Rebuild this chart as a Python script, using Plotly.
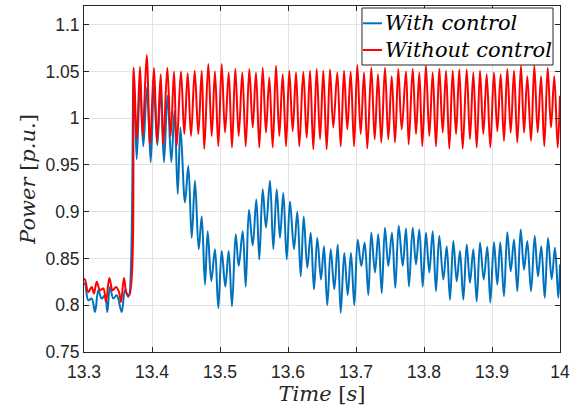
import plotly.graph_objects as go

# Power response samples (time in s, power in p.u.), peaks and troughs of the oscillation
t_with = [13.3, 13.3015, 13.3063, 13.3113, 13.3162, 13.3210, 13.3260, 13.3309, 13.3343, 13.3382,
          13.3431, 13.3481, 13.3554, 13.3603, 13.3651,
          13.3731, 13.3775, 13.3824, 13.3872, 13.3926, 13.3981, 13.4029, 13.4078, 13.4128, 13.4176,
          13.4228, 13.4284, 13.4331, 13.4378, 13.4419, 13.4485, 13.4534, 13.4584, 13.4632, 13.4687,
          13.4731, 13.4779, 13.4819, 13.4872, 13.4926, 13.4975, 13.5025, 13.5078, 13.5128, 13.5176,
          13.5231, 13.5275, 13.5334, 13.5378, 13.5426, 13.5481, 13.5534, 13.5578, 13.5628, 13.5676,
          13.5735, 13.5784, 13.5834, 13.5882, 13.5931, 13.5981, 13.6029, 13.6088, 13.6137, 13.6187,
          13.6231, 13.6284, 13.6334, 13.6382, 13.6431, 13.6485, 13.6529, 13.6578, 13.6628, 13.6681,
          13.6731, 13.6775, 13.6828, 13.6878, 13.6926, 13.6975, 13.7025, 13.7078, 13.7128, 13.7181,
          13.7225, 13.7279, 13.7328, 13.7378, 13.7426, 13.7475, 13.7529, 13.7578, 13.7628, 13.7687,
          13.7735, 13.7779, 13.7834, 13.7882, 13.7931, 13.7981, 13.8029, 13.8078, 13.8128, 13.8176,
          13.8225, 13.8284, 13.8334, 13.8382, 13.8431, 13.8481, 13.8529, 13.8578, 13.8628, 13.8676,
          13.8725, 13.8775, 13.8824, 13.8878, 13.8931, 13.8975, 13.9029, 13.9078, 13.9122, 13.9176,
          13.9225, 13.9275, 13.9324, 13.9372, 13.9422, 13.9471, 13.9519, 13.9574, 13.9628, 13.9676,
          13.9725, 13.9775, 13.9824, 13.9878, 13.9926, 13.9975, 14.0]
p_with = [0.822, 0.8232, 0.8053, 0.8071, 0.7928, 0.8160, 0.8071, 0.8107, 0.7928, 0.8196,
          0.8071, 0.8107, 0.7928, 0.8160, 0.8089,
          1.045, 0.956, 1.039, 0.970, 1.033, 0.953, 1.035, 0.971, 1.030, 0.953,
          1.024, 0.953, 1.008, 0.919, 0.990, 0.910, 0.949, 0.872, 0.933, 0.860,
          0.895, 0.822, 0.879, 0.826, 0.860, 0.797, 0.858, 0.820, 0.858, 0.799,
          0.876, 0.842, 0.879, 0.820, 0.902, 0.864, 0.913, 0.849, 0.924, 0.883,
          0.933, 0.860, 0.924, 0.872, 0.920, 0.849, 0.911, 0.860, 0.900, 0.831,
          0.895, 0.840, 0.8775, 0.817, 0.872, 0.8275, 0.863, 0.800, 0.860, 0.817,
          0.865, 0.792, 0.856, 0.811, 0.856, 0.800, 0.870, 0.842, 0.867, 0.811,
          0.8775, 0.835, 0.876, 0.813, 0.883, 0.842, 0.8775, 0.8186, 0.885, 0.842,
          0.882, 0.820, 0.883, 0.8436, 0.881, 0.820, 0.8775, 0.835, 0.879, 0.815,
          0.874, 0.8275, 0.863, 0.806, 0.8686, 0.8257, 0.858, 0.806, 0.865, 0.824,
          0.860, 0.804, 0.867, 0.8275, 0.8625, 0.803, 0.8675, 0.822, 0.8675, 0.8096,
          0.878, 0.8364, 0.8704, 0.815, 0.881, 0.838, 0.8686, 0.815, 0.874, 0.831,
          0.863, 0.808, 0.8718, 0.828, 0.8614, 0.808, 0.8436]

t_without = [13.3, 13.3015, 13.3063, 13.3113, 13.3147, 13.3187, 13.3235, 13.3284, 13.3324, 13.3372,
             13.3422, 13.3471, 13.3515, 13.3544, 13.3588, 13.3628, 13.3666,
             13.3731, 13.3775, 13.3824, 13.3863, 13.3922, 13.3971, 13.4029, 13.4074, 13.4128, 13.4166,
             13.4225, 13.4275, 13.4324, 13.4363, 13.4426, 13.4475, 13.4525, 13.4574, 13.4628, 13.4681,
             13.4731, 13.4769, 13.4828, 13.4878, 13.4926, 13.4975, 13.5025, 13.5074, 13.5128, 13.5176,
             13.5225, 13.5275, 13.5328, 13.5378, 13.5431, 13.5481, 13.5529, 13.5578, 13.5628, 13.5676,
             13.5725, 13.5775, 13.5824, 13.5872, 13.5922, 13.5971, 13.6019, 13.6069, 13.6118, 13.6166,
             13.6225, 13.6275, 13.6324, 13.6372, 13.6422, 13.6471, 13.6519, 13.6569, 13.6618, 13.6666,
             13.6725, 13.6775, 13.6824, 13.6872, 13.6922, 13.6971, 13.7019, 13.7069, 13.7118, 13.7166,
             13.7225, 13.7275, 13.7324, 13.7372, 13.7426, 13.7475, 13.7525, 13.7574, 13.7622, 13.7672,
             13.7735, 13.7775, 13.7834, 13.7882, 13.7931, 13.7975, 13.8029, 13.8078, 13.8128, 13.8176,
             13.8225, 13.8275, 13.8324, 13.8372, 13.8422, 13.8471, 13.8519, 13.8569, 13.8628, 13.8676,
             13.8725, 13.8775, 13.8824, 13.8872, 13.8922, 13.8975, 13.9029, 13.9078, 13.9128, 13.9176,
             13.9225, 13.9275, 13.9324, 13.9372, 13.9426, 13.9471, 13.9519, 13.9574, 13.9622, 13.9672,
             13.9721, 13.9769, 13.9819, 13.9868, 13.9916, 13.9966, 14.0]
p_without = [0.828, 0.8275, 0.8140, 0.8196, 0.8125, 0.8250, 0.8160, 0.8180, 0.8035, 0.8290,
             0.8160, 0.8196, 0.8142, 0.8035, 0.8290, 0.8125, 0.8107,
             1.054, 0.9775, 1.055, 0.981, 1.0675, 0.972, 1.054, 0.974, 1.047, 0.972,
             1.054, 0.981, 1.050, 0.970, 1.050, 0.983, 1.048, 0.981, 1.0507, 0.983,
             1.0507, 0.967, 1.058, 0.981, 1.050, 0.970, 1.058, 0.9846, 1.049, 0.9686,
             1.053, 0.981, 1.049, 0.970, 1.0525, 0.990, 1.049, 0.9686, 1.054, 0.9846,
             1.0436, 0.9686, 1.056, 0.981, 1.047, 0.970, 1.0507, 0.986, 1.049, 0.970,
             1.0496, 0.979, 1.0507, 0.9668, 1.0525, 0.9775, 1.0507, 0.9668, 1.052, 0.990,
             1.049, 0.970, 1.0507, 0.988, 1.0496, 0.970, 1.0568, 0.983, 1.049, 0.9675,
             1.054, 0.9775, 1.047, 0.974, 1.054, 0.9775, 1.045, 0.974, 1.0525, 0.988,
             1.050, 0.972, 1.053, 0.983, 1.049, 0.970, 1.056, 0.981, 1.049, 0.970,
             1.053, 0.9846, 1.0507, 0.9675, 1.0507, 0.983, 1.052, 0.9675, 1.052, 0.9775,
             1.049, 0.9686, 1.0507, 0.983, 1.047, 0.9686, 1.049, 0.986, 1.047, 0.9757,
             1.0525, 0.9846, 1.0507, 0.974, 1.056, 0.9846, 1.045, 0.9757, 1.056, 0.9846,
             1.045, 0.970, 1.054, 0.990, 1.045, 0.9686, 1.024]

series_names = ["With control", "Without control"]
x_ticks = [13.3, 13.4, 13.5, 13.6, 13.7, 13.8, 13.9, 14.0]
x_labels = ["13.3", "13.4", "13.5", "13.6", "13.7", "13.8", "13.9", "14"]
y_ticks = [0.75, 0.8, 0.85, 0.9, 0.95, 1.0, 1.05, 1.1]
y_labels = ["0.75", "0.8", "0.85", "0.9", "0.95", "1", "1.05", "1.1"]

BLUE = "#0072BD"
RED = "#FF0000"
INK = "#262626"
SERIF = "DejaVu Serif, Liberation Serif, serif"
SANS = "Liberation Sans, Arial, Helvetica, sans-serif"

fig = go.Figure()
fig.add_trace(go.Scatter(x=t_with, y=p_with, mode="lines", name=series_names[0],
                         line=dict(color=BLUE, width=2, shape="spline", smoothing=1.0)))
fig.add_trace(go.Scatter(x=t_without, y=p_without, mode="lines", name=series_names[1],
                         line=dict(color=RED, width=2, shape="spline", smoothing=1.0)))

axis_common = dict(
    showline=True, linecolor=INK, linewidth=1, mirror="ticks",
    ticks="inside", ticklen=5, tickcolor=INK,
    showgrid=True, gridcolor="#e3e3e3", gridwidth=1,
    zeroline=False, tickfont=dict(family=SANS, size=17.5, color=INK),
)

fig.update_layout(
    width=579, height=408,
    margin=dict(l=84, r=19, t=6, b=56),
    paper_bgcolor="white", plot_bgcolor="white",
    showlegend=False,
    xaxis=dict(range=[13.3, 14.0], tickvals=x_ticks, ticktext=x_labels, ticklabelstandoff=4,
               title=dict(text="<i>Time</i> [<i>s</i>]", font=dict(family=SERIF, size=21, color=INK),
                          standoff=0),
               **axis_common),
    yaxis=dict(range=[0.75, 1.12], tickvals=y_ticks, ticktext=y_labels,
               title=dict(text="<i>Power</i> [<i>p.u.</i>]", font=dict(family=SERIF, size=21, color=INK),
                          standoff=4),
               **axis_common),
)

# Legend box with short line samples, placed in the upper right of the axes
box_x0, box_x1, box_y0, box_y1 = 0.584, 0.9853, 0.8295, 0.9942
fig.add_shape(type="rect", xref="paper", yref="paper", x0=box_x0, x1=box_x1, y0=box_y0, y1=box_y1,
              line=dict(color=INK, width=1), fillcolor="white", layer="above")
entry_y = [0.950, 0.8728]
for name, color, yy in zip(series_names, [BLUE, RED], entry_y):
    fig.add_shape(type="line", xref="paper", yref="paper", x0=0.586, x1=0.626, y0=yy, y1=yy,
                  line=dict(color=color, width=2), layer="above")
    fig.add_annotation(xref="paper", yref="paper", x=0.629, y=yy, xanchor="left", yanchor="middle",
                       text=f"<i>{name}</i>", showarrow=False,
                       font=dict(family=SERIF, size=21, color="black"))

fig.write_html("out.html")
